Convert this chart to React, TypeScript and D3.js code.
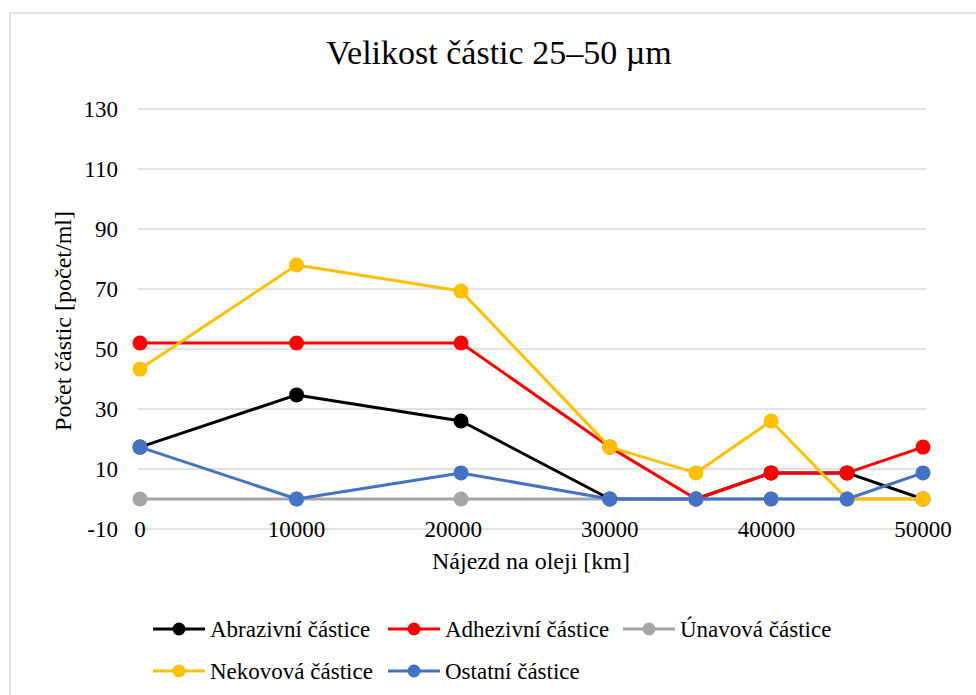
import { useEffect, useRef } from "react";
import * as d3 from "d3";

// mileage of each sample [km]
const mileage = [0, 10000, 20500, 30000, 35500, 40300, 45150, 50000];

const abrazivni = [17.3, 34.7, 26, 0, 0, 8.7, 8.7, 0];
const adhezivni = [52, 52, 52, 17.3, 0, 8.7, 8.7, 17.3];
const unavova = [0, 0, 0, 0, 0, 0, 0, 0];
const nekovova = [43.3, 78, 69.3, 17.3, 8.7, 26, 0, 0];
const ostatni = [17.3, 0, 8.7, 0, 0, 0, 0, 8.7];

const seriesNames = ["Abrazivní částice", "Adhezivní částice", "Únavová částice", "Nekovová částice", "Ostatní částice"];
const seriesColors = ["#000000", "#FF0000", "#A5A5A5", "#FFC000", "#4472C4"];

const xTicks = [0, 10000, 20000, 30000, 40000, 50000];
const yTicks = [-10, 10, 30, 50, 70, 90, 110, 130];

const FONT = "Liberation Serif, Tinos, DejaVu Serif, Noto Serif, serif";

export default function App() {
  const svgRef = useRef<SVGSVGElement | null>(null);

  useEffect(() => {
    const svg = d3.select(svgRef.current);
    const width = 976;
    const height = 695;
    svg.selectAll("*").remove();
    svg.attr("width", width).attr("height", height);

    const series = [abrazivni, adhezivni, unavova, nekovova, ostatni];

    const x = d3.scaleLinear().domain([0, 50000]).range([140, 923]);
    const y = d3.scaleLinear().domain([-10, 130]).range([529, 109]);

    // chart border
    svg.append("rect")
      .attr("x", 10).attr("y", 13)
      .attr("width", width + 20).attr("height", height + 20)
      .attr("fill", "white")
      .attr("stroke", "#d9d9d9")
      .attr("stroke-width", 1.5);

    svg.append("text")
      .attr("x", 499).attr("y", 64)
      .attr("text-anchor", "middle")
      .attr("font-family", FONT)
      .attr("font-size", 34)
      .attr("fill", "#000")
      .text("Velikost částic 25–50 µm");

    // gridlines
    svg.append("g")
      .selectAll("line")
      .data(yTicks)
      .enter()
      .append("line")
      .attr("x1", 138).attr("x2", 926)
      .attr("y1", (d) => y(d)).attr("y2", (d) => y(d))
      .attr("stroke", "#d9d9d9")
      .attr("stroke-width", 1.5);

    // y tick labels
    svg.append("g")
      .selectAll("text")
      .data(yTicks)
      .enter()
      .append("text")
      .attr("x", 118)
      .attr("y", (d) => y(d) + 8)
      .attr("text-anchor", "end")
      .attr("font-family", FONT)
      .attr("font-size", 23)
      .text((d) => String(d));

    // x tick labels
    svg.append("g")
      .selectAll("text")
      .data(xTicks)
      .enter()
      .append("text")
      .attr("x", (d) => x(d))
      .attr("y", 537)
      .attr("text-anchor", "middle")
      .attr("font-family", FONT)
      .attr("font-size", 23)
      .text((d) => String(d));

    svg.append("text")
      .attr("x", 531).attr("y", 569)
      .attr("text-anchor", "middle")
      .attr("font-family", FONT)
      .attr("font-size", 24)
      .text("Nájezd na oleji [km]");

    svg.append("text")
      .attr("transform", `translate(71,321) rotate(-90)`)
      .attr("text-anchor", "middle")
      .attr("font-family", FONT)
      .attr("font-size", 24)
      .text("Počet částic [počet/ml]");

    const line = d3.line<number>()
      .x((_, i) => x(mileage[i]))
      .y((d) => y(d));

    series.forEach((values, s) => {
      const g = svg.append("g");
      g.append("path")
        .datum(values)
        .attr("d", line)
        .attr("fill", "none")
        .attr("stroke", seriesColors[s])
        .attr("stroke-width", 3)
        .attr("stroke-linejoin", "round");
      g.selectAll("circle")
        .data(values)
        .enter()
        .append("circle")
        .attr("cx", (_, i) => x(mileage[i]))
        .attr("cy", (d) => y(d))
        .attr("r", 7.5)
        .attr("fill", seriesColors[s]);
    });

    // legend
    const legend = svg.append("g");
    seriesNames.forEach((name, i) => {
      const col = i < 3 ? i : i - 3;
      const row = i < 3 ? 0 : 1;
      const item = legend.append("g")
        .attr("transform", `translate(${153 + col * 235}, ${629 + row * 42})`);
      item.append("line")
        .attr("x1", 0).attr("x2", 52)
        .attr("stroke", seriesColors[i])
        .attr("stroke-width", 3);
      item.append("circle")
        .attr("cx", 26).attr("r", 6.5)
        .attr("fill", seriesColors[i]);
      item.append("text")
        .attr("x", 57).attr("y", 8)
        .attr("font-family", FONT)
        .attr("font-size", 23)
        .text(name);
    });
  }, []);

  return (
    <div style={{ position: "absolute", left: 0, top: 0 }}>
      <svg ref={svgRef} style={{ display: "block" }} />
    </div>
  );
}
